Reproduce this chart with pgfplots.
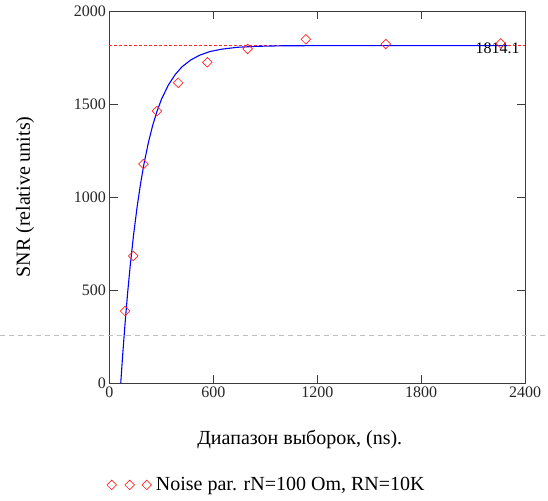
\documentclass[border=0pt]{standalone}
\usepackage{fontspec}
\setmainfont{Liberation Serif}
\usepackage{pgfplots}
\pgfplotsset{compat=1.18}

% цвета как в Mathcad
\definecolor{axisgray}{RGB}{60,60,60}
\definecolor{fitblue}{RGB}{0,0,255}
\definecolor{ptred}{RGB}{255,40,40}

\begin{document}
\begin{tikzpicture}
\begin{axis}[
    scale only axis,
    width=415.5bp, height=372bp,
    xmin=0, xmax=2400, ymin=0, ymax=2000,
    xtick={0,600,...,2400},
    ytick={0,500,...,2000},
    tick align=inside,
    major tick length=8bp,
    axis line style={axisgray, line width=0.9pt},
    tick style={axisgray, line width=0.9pt},
    clip=false,
    /pgf/number format/assume math mode=true,
    /pgf/number format/1000 sep={},
    ticklabel style={font=\fontsize{16bp}{19bp}\selectfont, text=black!85},
    xlabel={Диапазон выборок, (ns).},
    ylabel={SNR (relative units)},
    every axis x label/.style={at={(axis description cs:0.458,-0.153)}, anchor=center,
        font=\fontsize{20bp}{24bp}\selectfont},
    every axis y label/.style={at={(axis description cs:-0.203,0.5)}, rotate=90, anchor=center,
        font=\fontsize{20bp}{24bp}\selectfont},
    legend style={at={(axis description cs:-0.01,-0.274)}, anchor=west, draw=none,
        font=\fontsize{20bp}{24bp}\selectfont, fill=none, inner sep=0pt,
        nodes={inner sep=2bp}},
    legend cell align=left,
]
% уровень насыщения 1814.1
\addplot[draw=ptred, line width=1.4pt, densely dashed, forget plot]
    coordinates {(0,1814.1) (2400,1814.1)};
% аппроксимация (синяя линия)
\addplot[draw=fitblue, line width=1.1pt, forget plot] coordinates {
    (65,0) (75,136) (90,322) (105,487) (120,634) (140,804) (160,950)
    (180,1075) (200,1182) (225,1294) (250,1387) (275,1462) (300,1525)
    (340,1602) (380,1659) (420,1701) (470,1737) (520,1762) (580,1782)
    (650,1795) (740,1805) (850,1810) (1000,1813) (1300,1814) (2300,1814.1)
};
% измерения
\addplot[only marks, ptred, mark=square, mark size=3.4bp, mark options={rotate=45, line width=0.7pt},
    legend image code/.code={
        \draw[mark options={rotate=45, line width=0.7pt}] plot[mark=square, mark size=3.4bp] coordinates {(0bp,0bp) (18bp,0bp) (35bp,0bp)};
        \path (-6bp,0bp) (42bp,0bp);
    }] coordinates {
    (90,387) (137,683) (196,1177) (274,1462) (397,1614) (565,1724)
    (798,1796) (1134,1848) (1596,1822) (2260,1826)
};
\addlegendentry{Noise par. rN=100 Om, RN=10K}
\node[anchor=east, font=\fontsize{16bp}{19bp}\selectfont, inner sep=0pt] at (axis cs:2370,1800) {1814.1};
\coordinate (O) at (rel axis cs:0,0);
\end{axis}
% серая пунктирная линия через всю картинку
\draw[black!25, line width=0.9pt, dash pattern=on 5bp off 4bp] (O) ++(-109.5bp,48bp) -- ++(548bp,0);
\pgfresetboundingbox
\path (O) ++(-109.5bp,-118bp) rectangle ++(548bp,501bp);
\end{tikzpicture}
\end{document}
